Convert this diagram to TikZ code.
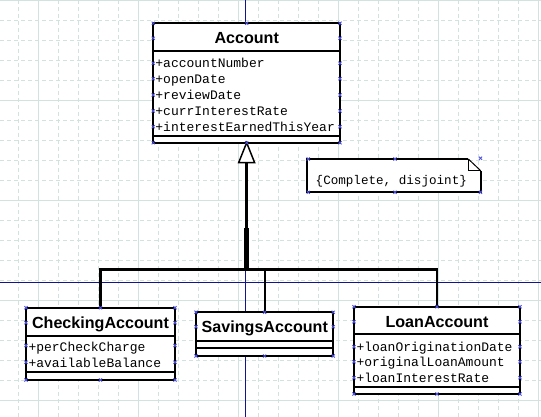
\documentclass[tikz,border=0pt]{standalone}
\usepackage{fontspec}
\setmainfont{Liberation Sans}
\newfontfamily\monof{Liberation Mono}
\definecolor{gridc}{RGB}{210,227,223}
\definecolor{guidec}{RGB}{20,20,140}
\definecolor{handlec}{RGB}{80,80,225}
\begin{document}
\begin{tikzpicture}[x=1pt,y=-1pt,
  gridmin/.style={draw=gridc, line width=0.8pt, dash pattern=on 4pt off 3pt},
  gridmaj/.style={draw=gridc, line width=0.8pt},
  guide/.style={draw=guidec, line width=1pt},
  cls/.style={draw=black, fill=white, line width=2pt, rectangle, inner sep=0pt, outer sep=0pt, anchor=north west},
  sepline/.style={draw=black, line width=2pt},
  cname/.style={font=\fontsize{16.1}{18}\selectfont\bfseries, anchor=base, inner sep=0pt},
  attr/.style={font=\monof\fontsize{13}{15}\selectfont, anchor=base west, inner sep=0pt},
  notetext/.style={font=\monof\fontsize{12.6}{15}\selectfont, anchor=base, inner sep=0pt},
  conn/.style={draw=black, line width=2.3pt},
  handles/.style={only marks, mark=x, mark size=2.2pt, mark options={draw=handlec, line width=0.8pt}}
]
\useasboundingbox (0,0) rectangle (541,417);
\fill[white] (0,0) rectangle (541,417);
% grid
\foreach \x in {18,38,...,538} \draw[gridmin] (\x,0) -- (\x,417);
\foreach \y in {20,40,...,400} \draw[gridmin] (0,\y) -- (541,\y);
\foreach \x in {38,138,...,538} \draw[gridmaj] (\x,0) -- (\x,417);
\foreach \y in {100,200,...,400} \draw[gridmaj] (0,\y) -- (541,\y);
\draw[gridmaj] (0,0.5) -- (541,0.5);
% guides
\draw[guide] (245.5,0) -- (245.5,417);
\draw[guide] (0,282) -- (541,282);

% classes
\node[cls, minimum width=186.7pt, minimum height=119.4pt] (acc) at (153.3,23.3) {};
\node[cls, minimum width=149pt, minimum height=72.3pt] (chk) at (26,307.7) {};
\node[cls, minimum width=137.3pt, minimum height=43.7pt] (sav) at (196,312.3) {};
\node[cls, minimum width=166pt, minimum height=87.3pt] (lon) at (354,306.7) {};

% compartments
\draw[sepline] (acc.west |- 0,51) -- (acc.east |- 0,51);
\draw[sepline] (acc.west |- 0,135.7) -- (acc.east |- 0,135.7);
\draw[sepline] (chk.west |- 0,335.7) -- (chk.east |- 0,335.7);
\draw[sepline] (chk.west |- 0,371.7) -- (chk.east |- 0,371.7);
\draw[sepline] (sav.west |- 0,341) -- (sav.east |- 0,341);
\draw[sepline] (sav.west |- 0,348.3) -- (sav.east |- 0,348.3);
\draw[sepline] (lon.west |- 0,334.3) -- (lon.east |- 0,334.3);
\draw[sepline] (lon.west |- 0,386.7) -- (lon.east |- 0,386.7);

% texts
\node[cname] (accn) at (246.7,44) {Account};
\node[attr] (a1) at (155.2,67.6) {+accountNumber};
\node[attr] (a2) at (155.2,83.6) {+openDate};
\node[attr] (a3) at (155.2,99.6) {+reviewDate};
\node[attr] (a4) at (155.2,115.6) {+currInterestRate};
\node[attr] (a5) at (155.2,131.6) {+interestEarnedThisYear};

\node[cname] (chkn) at (100.5,328) {CheckingAccount};
\node[attr] (c1) at (28.3,351) {+perCheckCharge};
\node[attr] (c2) at (28.3,367.3) {+availableBalance};

\node[cname] (savn) at (264.8,332) {SavingsAccount};

\node[cname] (lonn) at (437,327) {LoanAccount};
\node[attr] (l1) at (356.3,351) {+loanOriginationDate};
\node[attr] (l2) at (356.3,366.6) {+originalLoanAmount};
\node[attr] (l3) at (356.3,382.6) {+loanInterestRate};

% note
\coordinate (ntl) at (307.3,159);
\coordinate (nfold) at (468.3,159);
\coordinate (ncorner) at (468.3,170.7);
\coordinate (nright) at (480.7,170.7);
\coordinate (nbr) at (480.7,192.3);
\draw[line width=2pt, fill=white] (nfold) -- (ntl) -- (ntl |- nbr) -- (nbr) -- (nright);
\draw[line width=1pt] (nfold) -- (nright);
\draw[line width=1pt] (nfold) -- (ncorner) -- (nright);
\node[notetext] (note) at (391.3,184) {\{Complete, disjoint\}};

% generalization
\coordinate (bar) at (246.5,269.5);
\coordinate (tribase) at (246.5,162.7);
\draw[conn] (chk.north) -- (chk.north |- bar) -- (lon.north |- bar) -- (lon.north);
\draw[conn] (sav.north) -- (sav.north |- bar);
\draw[conn] (bar) -- (tribase);
\draw[draw=black, line width=4.3pt] (bar) -- (bar |- 0,228);
\draw[line width=1.5pt, fill=white, line join=miter] (acc.south) -- ++(8,20) -- ++(-16,0) -- cycle;

% selection handles
\path plot[handles] coordinates {(153.3,23.3) (246.7,23.3) (340,23.3) (153.3,38.3) (340,38.3)
  (153.3,63.3) (340,63.3) (153.3,78.7) (340,78.7) (153.3,95) (340,95) (153.3,111) (340,111)
  (153.3,126.7) (340,126.7) (153.3,142.7) (246.7,142.7) (340,142.7)};
\path plot[handles] coordinates {(26,307.7) (100.5,307.7) (175,307.7) (26,322.7) (175,322.7)
  (26,345.5) (175,345.5) (26,362.3) (175,362.3) (26,380) (100.5,380) (175,380)};
\path plot[handles] coordinates {(196,312.3) (264.6,312.3) (333.3,312.3) (196,326.7) (333.3,326.7)
  (196,356) (264.6,356) (333.3,356)};
\path plot[handles] coordinates {(354,306.7) (437,306.7) (520,306.7) (354,321.7) (520,321.7)
  (354,346.7) (520,346.7) (354,361.7) (520,361.7) (354,377.7) (520,377.7) (354,394) (437,394) (520,394)};
\path plot[handles] coordinates {(308.3,159) (395,159) (480.5,158.3) (308.3,192.3) (395,192.3) (480.5,192.3)};
\end{tikzpicture}
\end{document}
